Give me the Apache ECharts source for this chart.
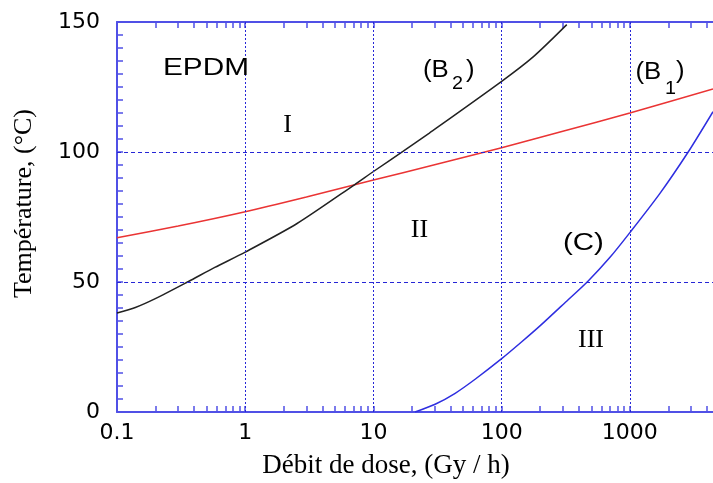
<!DOCTYPE html>
<html>
<head>
<meta charset="utf-8">
<script src="https://cdn.jsdelivr.net/npm/echarts@6/dist/echarts.min.js"></script>
<style>html,body{margin:0;padding:0;background:#fff}#c{width:713px;height:483px}</style>
</head>
<body>
<div id="c"></div>
<script>
// ---- data ----
const b1Dose = [0.1, 0.3, 1, 3, 10, 30, 100, 300, 1000, 4450];
const b1Temp = [67.0, 71.5, 77.0, 82.7, 89.2, 95.1, 101.6, 108.0, 115.0, 124.2];

const b2Dose = [0.1, 0.139, 0.199, 0.361, 0.579, 1, 2.52, 7.11, 10, 17.1, 27.3, 100, 178, 322];
const b2Temp = [38.1, 40.2, 43.6, 50.2, 55.6, 61.5, 72.4, 87.4, 92.5, 100.3, 107.3, 127.2, 136.8, 149];

const cDose = [21.1, 30.3, 43.4, 62.1, 100, 143.5, 200, 316, 471, 700, 1000, 1700, 2850, 4450];
const cTemp = [0, 3.0, 7.2, 12.6, 20.5, 27.0, 33.2, 42.3, 50.3, 59.5, 69.0, 83.8, 100, 115.5];

const xTickLabels = [0.1, 1, 10, 100, 1000];
const yTickLabels = [0, 50, 100, 150];
const xGridValues = [1, 10, 100, 1000];
const yGridValues = [50, 100];

const X_MIN = 0.1, X_MAX = 4450;

// log minor tick values (1..9 per decade)
const xAllTicks = [];
for (const d of [0.1, 1, 10, 100, 1000]) {
  for (let k = 1; k <= 9; k++) {
    const v = +(k * d).toPrecision(6);
    if (v >= X_MIN && v <= X_MAX) xAllTicks.push(v);
  }
}

const pair = (xs, ys) => xs.map((x, i) => [x, ys[i]]);

const axisBlue = '#5050e6';
const gridBlue = '#2626d6';

const mkTick = (extra) => Object.assign({show: true, inside: true, length: 6, lineStyle: {color: axisBlue, width: 1.5}}, extra || {});

const chart = echarts.init(document.getElementById('c'), null, {renderer: 'canvas'});
chart.setOption({
  animation: false,
  backgroundColor: '#fff',
  grid: {left: 117, top: 22, right: 0, bottom: 71, containLabel: false},
  xAxis: [{
    type: 'log', logBase: 10, min: X_MIN, max: X_MAX, position: 'bottom',
    axisLine: {show: true, onZero: false, lineStyle: {color: axisBlue, width: 2}},
    axisTick: mkTick({customValues: xAllTicks}),
    minorTick: {show: false},
    splitLine: {show: false},
    axisLabel: {
      show: true, customValues: xTickLabels, margin: 10,
      fontFamily: 'DejaVu Sans', fontSize: 22, color: '#000',
      formatter: v => String(+(+v).toPrecision(6))
    }
  }, {
    type: 'log', logBase: 10, min: X_MIN, max: X_MAX, position: 'top',
    axisLine: {show: true, onZero: false, lineStyle: {color: axisBlue, width: 2}},
    axisTick: mkTick({customValues: xAllTicks}),
    splitLine: {show: false},
    axisLabel: {show: false}
  }],
  yAxis: [{
    type: 'value', min: 0, max: 150, interval: 50, position: 'left',
    axisLine: {show: true, onZero: false, lineStyle: {color: axisBlue, width: 2}},
    axisTick: mkTick(),
    splitLine: {show: false},
    axisLabel: {
      show: true, margin: 17, fontFamily: 'DejaVu Sans', fontSize: 22, color: '#000',
      formatter: v => String(v)
    }
  }, {
    type: 'value', min: 0, max: 150, interval: 5, position: 'left', offset: 0,
    axisLine: {show: false, onZero: false},
    axisTick: mkTick(),
    splitLine: {show: false},
    axisLabel: {show: false}
  }],
  series: [{
    type: 'line', name: 'grid', data: [], z: 1, silent: true,
    markLine: {
      silent: true, symbol: 'none', animation: false,
      label: {show: false},
      data: xGridValues.map(v => ({xAxis: v, lineStyle: {color: gridBlue, width: 1, type: [2, 2]}}))
        .concat(yGridValues.map(v => ({yAxis: v, lineStyle: {color: gridBlue, width: 1, type: [4, 3]}})))
    }
  }, {
    type: 'line', name: '(B1)', data: pair(b1Dose, b1Temp), smooth: 0.25, showSymbol: false, z: 3,
    lineStyle: {color: '#ea3434', width: 1.5}
  }, {
    type: 'line', name: '(B2)', data: pair(b2Dose, b2Temp), smooth: 0.25, showSymbol: false, z: 3,
    lineStyle: {color: '#222222', width: 1.5}
  }, {
    type: 'line', name: '(C)', data: pair(cDose, cTemp), smooth: 0.25, showSymbol: false, z: 3,
    lineStyle: {color: '#2e2ee0', width: 1.5}
  }],
  graphic: [
    {type: 'text', x: 163, y: 68, scaleX: 1.24, z: 10,
      style: {text: 'EPDM', font: '24px "Liberation Sans"', fill: '#000', textAlign: 'left', textVerticalAlign: 'middle'}},
    {type: 'text', x: 423, y: 71, scaleX: 1.12, z: 10,
      style: {text: '(B', font: '23px "Liberation Sans"', fill: '#000', textAlign: 'left', textVerticalAlign: 'middle'}},
    {type: 'text', x: 452, y: 84, scaleX: 1.1, z: 10,
      style: {text: '2', font: '18px "Liberation Sans"', fill: '#000', textAlign: 'left', textVerticalAlign: 'middle'}},
    {type: 'text', x: 466, y: 71, scaleX: 1.12, z: 10,
      style: {text: ')', font: '23px "Liberation Sans"', fill: '#000', textAlign: 'left', textVerticalAlign: 'middle'}},
    {type: 'text', x: 635.5, y: 73, scaleX: 1.12, z: 10,
      style: {text: '(B', font: '23px "Liberation Sans"', fill: '#000', textAlign: 'left', textVerticalAlign: 'middle'}},
    {type: 'text', x: 665, y: 89, scaleX: 1.1, z: 10,
      style: {text: '1', font: '18px "Liberation Sans"', fill: '#000', textAlign: 'left', textVerticalAlign: 'middle'}},
    {type: 'text', x: 676, y: 72, scaleX: 1.12, z: 10,
      style: {text: ')', font: '23px "Liberation Sans"', fill: '#000', textAlign: 'left', textVerticalAlign: 'middle'}},
    {type: 'text', x: 563, y: 244, scaleX: 1.28, z: 10,
      style: {text: '(C)', font: '23px "Liberation Sans"', fill: '#000', textAlign: 'left', textVerticalAlign: 'middle'}},
    {type: 'text', x: 287.5, y: 125.5, z: 10,
      style: {text: 'I', font: '26px "Liberation Serif"', fill: '#000', textAlign: 'center', textVerticalAlign: 'middle'}},
    {type: 'text', x: 419.5, y: 230, z: 10,
      style: {text: 'II', font: '26px "Liberation Serif"', fill: '#000', textAlign: 'center', textVerticalAlign: 'middle'}},
    {type: 'text', x: 591, y: 340.5, z: 10,
      style: {text: 'III', font: '26px "Liberation Serif"', fill: '#000', textAlign: 'center', textVerticalAlign: 'middle'}},
    {type: 'text', x: 386, y: 466, z: 10,
      style: {text: 'Débit de dose, (Gy / h)', font: '27px "Liberation Serif"', fill: '#000', textAlign: 'center', textVerticalAlign: 'middle'}},
    {type: 'text', x: 24, y: 203.5, rotation: Math.PI / 2, z: 10,
      style: {text: 'Température, (°C)', font: '26px "Liberation Serif"', fill: '#000', textAlign: 'center', textVerticalAlign: 'middle'}}
  ]
});
</script>
</body>
</html>
